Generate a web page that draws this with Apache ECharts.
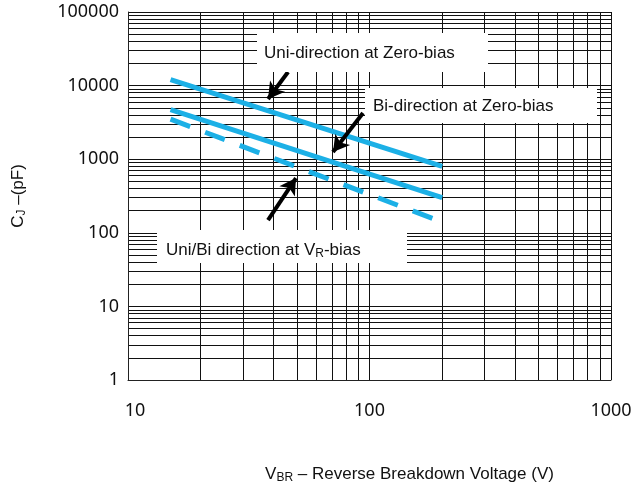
<!DOCTYPE html>
<html>

<head>
    <meta charset="utf-8">
    <title></title>
    <style>
        html, body { margin: 0; padding: 0; background: #fff; }
    </style>
</head>

<body>
    <div id="main" style="width: 637px;height:492px;"></div>
    <script src="https://cdn.jsdelivr.net/npm/echarts@6/dist/echarts.min.js" charset="utf-8"></script>
    <script>
    // reverse breakdown voltage (V) at the two ends of each curve
    var voltage = [15, 200];
    // junction capacitance (pF)
    var uniZeroBias = [12100, 800];
    var biZeroBias = [4700, 300];
    var vrBias = [3500, 140];

    // annotation arrows: [V, pF] tail -> tip
    var arrowFrom = [[46, 15300], [94, 4250], [38, 149]];
    var arrowTo = [[38, 6580], [70.6, 1250], [49.6, 555]];

    var xTicks = [10, 100, 1000];
    var yTicks = [1, 10, 100, 1000, 10000, 100000];

    var blue = '#1cb0e6';
    var textFont = 'Liberation Sans';
    var tickFont = 'Noto Sans';

    function pairs(xs, ys) {
        return xs.map(function(x, i) { return [x, ys[i]]; });
    }

    var arrowLines = arrowFrom.map(function(p, i) {
        return [{ coord: p }, { coord: arrowTo[i] }];
    });

    var subRich = {
        m: { fontFamily: textFont, fontSize: 17, color: '#111', lineHeight: 20 },
        sub: { fontFamily: textFont, fontSize: 12, color: '#111', verticalAlign: 'bottom', padding: [8, 0, 0, 0] }
    };

    // white label boxes laid over the grid
    function box(x, y, w, h) {
        return {
            type: 'rect',
            z: 100,
            silent: true,
            shape: { x: x, y: y, width: w, height: h },
            style: { fill: '#ffffff', stroke: null }
        };
    }

    function label(x, y, text) {
        return {
            type: 'text',
            z: 101,
            silent: true,
            x: x,
            y: y,
            style: {
                text: text,
                fill: '#111',
                verticalAlign: 'middle',
                rich: {
                    m: { fontFamily: textFont, fontSize: 17, fill: '#111', lineHeight: 20 },
                    sub: { fontFamily: textFont, fontSize: 12, fill: '#111', verticalAlign: 'bottom', padding: [8, 0, 0, 0] }
                }
            }
        };
    }

    var myChart = echarts.init(document.getElementById('main'));
    var option = {
        animation: false,
        grid: {
            left: 128,
            right: 26,
            top: 12,
            bottom: 112,
            containLabel: false,
            outerBoundsMode: 'none'
        },
        xAxis: {
            type: 'log',
            logBase: 10,
            min: xTicks[0],
            max: xTicks[xTicks.length - 1],
            name: '{m|V}{sub|BR}{m| – Reverse Breakdown Voltage (V)}',
            nameLocation: 'middle',
            nameGap: 84,
            nameTextStyle: {
                padding: [0, 0, 0, 80],
                rich: subRich
            },
            axisLine: { show: true, lineStyle: { color: '#222', width: 1 } },
            axisTick: { show: false },
            axisLabel: {
                margin: 22,
                fontFamily: tickFont,
                fontSize: 18,
                color: '#111',
                formatter: function(v) {
                    if (v === xTicks[0]) return '{first|' + v + '}';
                    return String(v);
                },
                rich: {
                    first: { fontFamily: tickFont, fontSize: 18, color: '#111', padding: [0, 0, 0, 14] }
                }
            },
            splitLine: { show: true, lineStyle: { color: '#111', width: 1 } },
            minorTick: { show: false, splitNumber: 9 },
            minorSplitLine: { show: true, lineStyle: { color: '#111', width: 1 } }
        },
        yAxis: {
            type: 'log',
            logBase: 10,
            min: yTicks[0],
            max: yTicks[yTicks.length - 1],
            name: '{m|C}{sub|J}{m| –(pF)}',
            nameLocation: 'middle',
            nameRotate: 90,
            nameGap: 100,
            nameTextStyle: {
                rich: subRich
            },
            axisLine: { show: true, lineStyle: { color: '#222', width: 1 } },
            axisTick: { show: false },
            axisLabel: {
                margin: 9,
                fontFamily: tickFont,
                fontSize: 18,
                color: '#111',
                formatter: function(v) { return String(Math.round(v)); }
            },
            splitLine: { show: true, lineStyle: { color: '#111', width: 1 } },
            minorTick: { show: false, splitNumber: 9 },
            minorSplitLine: { show: true, lineStyle: { color: '#111', width: 1 } }
        },
        series: [{
            name: 'Uni-direction at Zero-bias',
            type: 'line',
            data: pairs(voltage, uniZeroBias),
            showSymbol: false,
            silent: true,
            lineStyle: { color: blue, width: 5 },
            z: 3,
            markLine: {
                silent: true,
                symbol: ['none', 'arrow'],
                symbolSize: [14, 16],
                label: { show: false },
                lineStyle: { color: '#000', width: 4, type: 'solid' },
                data: arrowLines,
                z: 5
            }
        }, {
            name: 'Bi-direction at Zero-bias',
            type: 'line',
            data: pairs(voltage, biZeroBias),
            showSymbol: false,
            silent: true,
            lineStyle: { color: blue, width: 5 },
            z: 3
        }, {
            name: 'Uni/Bi direction at VR-bias',
            type: 'line',
            data: pairs(voltage, vrBias),
            showSymbol: false,
            silent: true,
            lineStyle: { color: blue, width: 5, type: [21, 16] },
            z: 3
        }],
        graphic: [
            box(257, 33, 231, 39),
            label(264, 53, '{m|Uni-direction at Zero-bias}'),
            box(365, 88, 232, 35),
            label(373, 106, '{m|Bi-direction at Zero-bias}'),
            box(157, 230, 250, 33),
            label(166, 250, '{m|Uni/Bi direction at V}{sub|R}{m|-bias}')
        ]
    };
    myChart.setOption(option);
    </script>
</body>

</html>
